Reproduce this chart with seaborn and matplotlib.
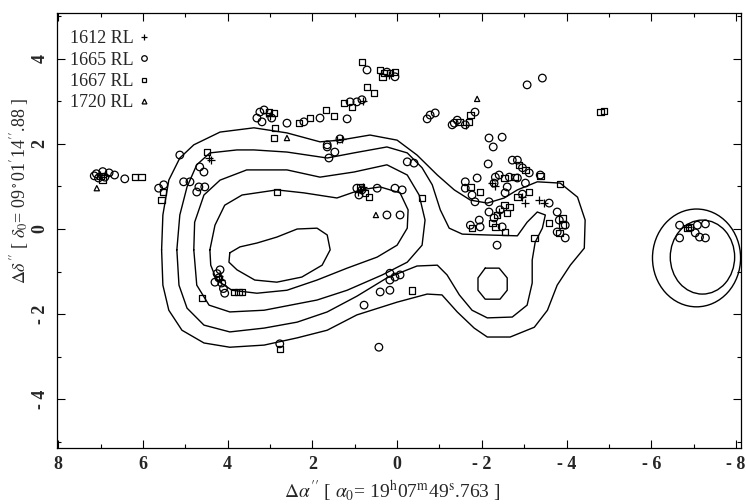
import matplotlib
matplotlib.use("Agg")
import matplotlib.pyplot as plt
from matplotlib.patches import Ellipse
from matplotlib.lines import Line2D
from matplotlib.ticker import MultipleLocator
import numpy as np
import pandas as pd
import seaborn as sns

sns.set_theme(style="ticks")
plt.rcParams["font.family"] = ["Liberation Serif", "DejaVu Serif"]
plt.rcParams["mathtext.fontset"] = "stix"
plt.rcParams["axes.unicode_minus"] = False

# contour levels of the continuum map (offsets in arcsec), outer to inner
contour_1 = [(5.56, -0.49), (5.53, 0.33), (5.39, 1.15), (5.13, 1.67), (4.80, 1.98), (4.18, 2.28),
             (3.38, 2.38), (2.60, 2.26), (1.82, 2.05), (1.35, 2.09), (0.64, 2.21), (0.00, 2.09),
             (-0.47, 1.74), (-0.95, 1.27), (-1.35, 0.92), (-1.73, 0.68), (-2.13, 0.61), (-2.53, 0.73),
             (-2.84, 0.92), (-3.31, 1.11), (-3.85, 1.08), (-4.26, 0.75), (-4.44, 0.21), (-4.42, -0.45),
             (-4.09, -0.85), (-3.78, -1.32), (-3.55, -1.91), (-3.24, -2.31), (-2.67, -2.54), (-2.13, -2.54),
             (-1.82, -2.33), (-1.42, -1.95), (-1.06, -1.55), (-0.71, -1.53), (0.00, -1.72), (0.95, -2.02),
             (1.65, -2.38), (2.36, -2.56), (3.14, -2.73), (3.95, -2.78), (4.56, -2.68), (5.08, -2.38),
             (5.39, -1.91), (5.53, -1.32)]
contour_2 = [(5.20, -0.49), (5.13, 0.33), (4.96, 0.99), (4.73, 1.51), (4.42, 1.79), (3.78, 1.86),
             (3.38, 1.86), (2.60, 1.81), (1.65, 1.67), (1.02, 1.79), (0.24, 1.93), (-0.24, 1.79),
             (-0.59, 1.44), (-0.83, 1.04), (-1.02, 0.45), (-1.23, 0.02), (-1.54, -0.12), (-2.13, -0.14),
             (-2.84, -0.16), (-3.07, 0.16), (-3.31, 0.40), (-3.50, 0.33), (-3.43, 0.02), (-3.26, -0.31),
             (-3.19, -0.73), (-3.19, -1.27), (-3.07, -1.79), (-2.72, -2.07), (-2.13, -2.09), (-1.77, -1.91),
             (-1.47, -1.55), (-1.18, -1.08), (-0.95, -0.85), (-0.47, -0.87), (0.24, -1.15), (0.95, -1.58),
             (1.65, -1.95), (2.36, -2.19), (3.14, -2.33), (3.95, -2.42), (4.56, -2.26), (4.96, -1.86),
             (5.15, -1.32)]
contour_3 = [(4.80, -0.49), (4.78, 0.16), (4.56, 0.80), (4.18, 1.15), (3.55, 1.39), (2.60, 1.39),
             (1.82, 1.22), (1.02, 1.34), (0.24, 1.51), (-0.24, 1.27), (-0.52, 0.80), (-0.66, 0.21),
             (-0.59, -0.38), (-0.24, -0.78), (0.35, -1.08), (1.18, -1.44), (1.89, -1.67), (2.36, -1.76),
             (3.14, -1.91), (3.95, -1.95), (4.44, -1.79), (4.73, -1.32)]
contour_4 = [(4.42, -0.49), (4.30, 0.09), (4.07, 0.56), (3.66, 0.80), (2.84, 0.92), (2.20, 0.85),
             (1.42, 0.73), (0.87, 0.92), (0.40, 0.99), (-0.07, 0.85), (-0.26, 0.45), (-0.24, 0.02),
             (0.00, -0.38), (0.47, -0.66), (1.18, -0.92), (1.89, -1.20), (2.60, -1.44), (3.31, -1.51),
             (3.90, -1.44), (4.26, -1.20), (4.40, -0.85)]
contour_5 = [(3.95, -0.56), (3.71, -0.42), (3.31, -0.33), (2.84, -0.19), (2.36, 0.00), (1.89, 0.02),
             (1.65, -0.14), (1.58, -0.49), (1.77, -0.85), (2.25, -1.13), (2.84, -1.25), (3.36, -1.20),
             (3.78, -0.96), (3.97, -0.78)]
contour_small = [(-2.08, -0.92), (-2.41, -0.92), (-2.60, -1.15), (-2.60, -1.44), (-2.43, -1.65),
                 (-2.08, -1.65), (-1.91, -1.44), (-1.91, -1.15)]

# second source (centre x, centre y, full width, full height)
ring_outer = (-7.07, -0.68, 2.08, 2.30)
ring_inner = (-7.21, -0.66, 1.52, 1.74)

# maser spot positions per OH line
spots_1612 = [(7.02, 1.28), (6.88, 1.28), (4.44, 1.67), (4.40, 1.62), (4.20, -1.10), (4.15, -1.20),
              (3.10, 2.72), (3.00, 2.66), (1.42, 2.09), (1.30, 2.12), (0.85, 0.92), (0.92, 0.88),
              (0.80, 0.98), (-2.25, 1.08), (-2.30, 1.00), (-2.96, 0.75), (-3.03, 0.61), (-3.36, 0.68),
              (-3.48, 0.61), (-1.62, 2.45), (-2.40, 0.40), (0.80, 3.00), (0.20, 3.62), (-6.88, 0.05)]
spots_1665 = [(7.10, 1.30), (6.95, 1.35), (7.05, 1.20), (6.90, 1.22), (6.80, 1.32), (7.15, 1.25),
              (6.67, 1.27), (6.43, 1.18), (5.63, 0.96), (5.51, 1.04), (5.13, 1.74), (5.04, 1.11),
              (4.89, 1.11), (4.66, 1.46), (4.56, 1.34), (4.68, 0.99), (4.54, 0.99), (4.73, 0.87),
              (4.18, -0.96), (4.21, -1.15), (4.30, -1.25), (4.14, -1.27), (4.07, -1.51), (4.25, -1.05),
              (4.10, -1.40), (3.24, 2.75), (3.14, 2.80), (3.31, 2.61), (3.19, 2.52), (2.96, 2.61),
              (2.60, 2.49), (2.20, 2.52), (1.82, 2.61), (1.18, 2.59), (1.11, 2.99), (0.95, 2.99),
              (0.83, 3.04), (0.71, 3.74), (0.24, 3.69), (0.05, 3.58), (1.65, 1.98), (1.65, 1.93),
              (1.47, 1.81), (1.61, 1.67), (1.35, 2.12), (0.95, 0.96), (0.83, 0.92), (0.90, 0.80),
              (0.47, 0.96), (0.05, 0.96), (-0.12, 0.92), (0.24, 0.33), (-0.07, 0.33), (-0.24, 1.58),
              (-0.40, 1.55), (0.17, -1.04), (0.05, -1.13), (-0.07, -1.08), (0.17, -1.20), (0.40, -1.48),
              (0.17, -1.44), (0.78, -1.79), (0.43, -2.78), (2.77, -2.70), (-0.78, 2.68), (-0.90, 2.73),
              (-0.71, 2.59), (-1.35, 2.49), (-1.42, 2.56), (-1.30, 2.45), (-1.61, 2.45), (-1.84, 2.75),
              (-3.07, 3.39), (-3.43, 3.55), (-2.17, 2.14), (-2.48, 2.16), (-2.27, 1.93), (-2.15, 1.53),
              (-1.61, 1.11), (-1.61, 0.96), (-1.89, 1.20), (-1.77, 0.80), (-1.84, 0.64), (-2.17, 0.64),
              (-2.32, 1.22), (-2.41, 1.27), (-2.65, 1.22), (-2.84, 1.20), (-2.72, 1.62), (-2.84, 1.62),
              (-2.96, 1.44), (-3.12, 1.32), (-3.38, 1.27), (-2.29, 1.08), (-2.60, 0.99), (-2.55, 0.85),
              (-3.03, 1.08), (-2.96, 0.82), (-3.59, 0.61), (-2.43, 0.45), (-2.29, 0.26), (-2.17, 0.40),
              (-1.73, 0.09), (-1.96, 0.05), (-1.94, 0.21), (-2.48, 0.05), (-2.36, -0.38), (-3.78, 0.40),
              (-3.83, 0.21), (-3.97, 0.09), (-3.97, -0.21), (-3.78, -0.07), (-6.67, 0.09), (-7.09, 0.09),
              (-7.28, 0.12), (-7.04, -0.09), (-7.14, -0.19), (-7.28, -0.21), (-6.67, -0.21)]
spots_1667 = [(7.00, 1.25), (6.95, 1.15), (6.19, 1.22), (6.03, 1.22), (5.53, 0.87), (5.56, 0.68),
              (4.49, 1.81), (4.61, -1.62), (3.85, -1.48), (3.74, -1.48), (3.66, -1.48), (2.77, -2.82),
              (2.84, 0.87), (2.88, 2.38), (2.91, 2.14), (2.32, 2.49), (2.06, 2.61), (1.68, 2.80),
              (1.49, 2.66), (1.25, 2.96), (1.06, 2.87), (0.71, 3.34), (0.54, 3.20), (0.83, 3.93),
              (0.40, 3.74), (0.31, 3.67), (0.17, 3.67), (0.05, 3.69), (0.35, 3.58), (0.66, 0.75),
              (-0.59, 0.73), (-0.35, -1.44), (-1.73, 0.99), (-1.96, 0.87), (-2.53, 1.20), (-2.77, 1.22),
              (-2.88, 1.51), (-3.03, 1.39), (-2.84, 0.75), (-3.12, 0.87), (-3.85, 1.06), (-3.38, 1.25),
              (-1.73, 2.68), (-1.47, 2.52), (-1.70, 2.52), (-4.80, 2.75), (-4.89, 2.78), (-2.53, 0.56),
              (-2.60, 0.38), (-2.36, 0.33), (-2.25, 0.14), (-2.32, 0.05), (-2.65, 0.52), (-1.77, 0.02),
              (-2.55, -0.07), (-3.59, 0.14), (-3.83, -0.09), (-3.90, 0.26), (-3.90, 0.09), (-3.24, -0.21),
              (-6.86, 0.02), (-6.91, 0.05), (3.03, 2.75), (2.91, 2.73), (0.87, 0.99), (0.76, 0.85)]
spots_1720 = [(7.09, 0.96), (-1.89, 3.06), (0.50, 0.33), (2.60, 2.14)]

line_labels = ["1612 RL", "1665 RL", "1667 RL", "1720 RL"]
xticks = [8, 6, 4, 2, 0, -2, -4, -6, -8]
xtick_labels = ["8", "6", "4", "2", "0", "- 2", "- 4", "- 6", "- 8"]
yticks = [-4, -2, 0, 2, 4]
ytick_labels = ["- 4", "- 2", "0", "2", "4"]

fig = plt.figure(figsize=(7.46, 5.04), dpi=100)
ax = fig.add_axes([0.0764, 0.1111, 0.9169, 0.8631])

for c in [contour_1, contour_2, contour_3, contour_4, contour_5, contour_small]:
    pts = np.array(c + [c[0]])
    ax.plot(pts[:, 0], pts[:, 1], color="black", lw=1.0)

for cx, cy, w, h in [ring_outer, ring_inner]:
    ax.add_patch(Ellipse((cx, cy), w, h, fill=False, edgecolor="black", lw=1.0))

styles = {
    "1612 RL": dict(marker="+", s=30, color="black", linewidth=0.9),
    "1665 RL": dict(marker="o", s=30, facecolors="none", edgecolor="black", linewidth=0.9),
    "1667 RL": dict(marker="s", s=22, facecolors="none", edgecolor="black", linewidth=0.9),
    "1720 RL": dict(marker="^", s=14, facecolors="none", edgecolor="black", linewidth=0.9),
}
for lab, spots in zip(line_labels, [spots_1612, spots_1665, spots_1667, spots_1720]):
    df = pd.DataFrame(spots, columns=["dx", "dy"])
    sns.scatterplot(data=df, x="dx", y="dy", ax=ax, legend=False, zorder=3, **styles[lab])

handles = [
    Line2D([], [], ls="none", marker="+", ms=5, mew=0.9, color="black"),
    Line2D([], [], ls="none", marker="o", ms=4, mew=0.9, mfc="none", mec="black"),
    Line2D([], [], ls="none", marker="s", ms=3.5, mew=0.9, mfc="none", mec="black"),
    Line2D([], [], ls="none", marker="^", ms=3.5, mew=0.9, mfc="none", mec="black"),
]
ax.legend(handles, line_labels, loc="upper left", bbox_to_anchor=(0.003, 0.985), frameon=False,
          markerfirst=False, handlelength=0.5, handletextpad=0.3, labelspacing=0.24,
          borderaxespad=0.2, prop=dict(family="Liberation Serif", size=13))

ax.set_xlim(8.03, -8.12)
ax.set_ylim(-5.15, 5.08)
ax.set_xticks(xticks)
ax.set_xticklabels(xtick_labels)
ax.set_yticks(yticks)
ax.set_yticklabels(ytick_labels, rotation=90, va="center")
ax.xaxis.set_minor_locator(MultipleLocator(1))
ax.yaxis.set_minor_locator(MultipleLocator(1))
ax.tick_params(which="both", direction="in", top=True, right=True, width=0.8, color="black")
ax.tick_params(which="major", length=6, labelsize=13, pad=6)
ax.tick_params(which="minor", length=3)
for t in ax.get_xticklabels() + ax.get_yticklabels():
    t.set_fontweight("bold")
for sp in ax.spines.values():
    sp.set_linewidth(0.9)
    sp.set_color("black")

ax.set_xlabel(r"$\Delta\alpha''$ [ $\alpha_0$= 19$^{\rm h}$07$^{\rm m}$49$^{\rm s}$.763 ]", fontsize=14)
ax.set_ylabel(r"$\Delta\delta''$ [ $\delta_0$= 09$^\circ$01$'$14$''$.88 ]", fontsize=13)
ax.xaxis.set_label_coords(0.49, -0.07)
ax.yaxis.set_label_coords(-0.038, 0.59)

fig.savefig("out.png", dpi=100)
